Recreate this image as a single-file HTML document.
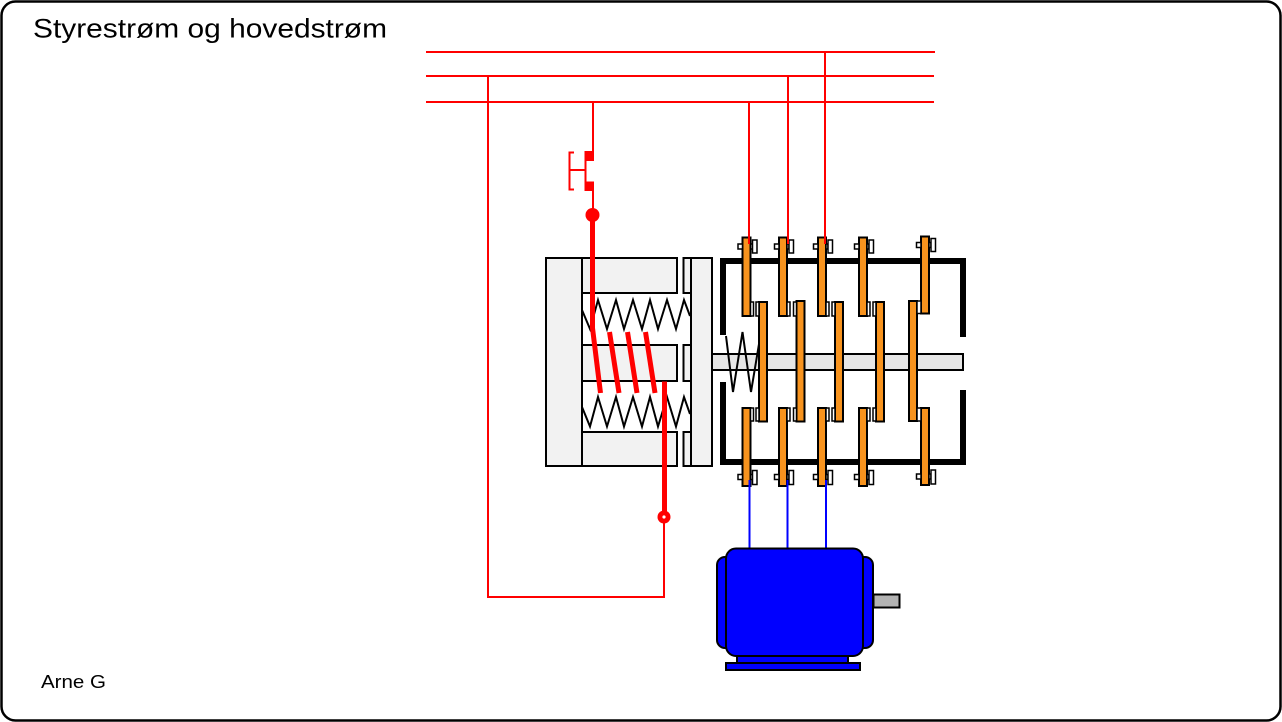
<!DOCTYPE html>
<html><head><meta charset="utf-8"><style>
html,body{margin:0;padding:0;background:#fff;}
svg{display:block;}
text{font-family:"Liberation Sans",sans-serif;}
</style></head><body>
<svg width="1282" height="722" viewBox="0 0 1282 722" xmlns="http://www.w3.org/2000/svg">
<rect x="1.5" y="1.5" width="1279" height="719" rx="14" fill="#fff" stroke="#000" stroke-width="2.5"/>
<text x="33" y="37.5" font-size="27" textLength="354" lengthAdjust="spacingAndGlyphs">Styrestrøm og hovedstrøm</text>
<text x="41" y="688" font-size="18.5" textLength="65" lengthAdjust="spacingAndGlyphs">Arne G</text>

<!-- red bus lines -->
<g stroke="#f00" stroke-width="2" fill="none">
<line x1="426" y1="52" x2="935" y2="52"/>
<line x1="426" y1="76" x2="934" y2="76"/>
<line x1="426" y1="102" x2="934" y2="102"/>
<polyline points="488,76 488,597 664,597 664,517"/>
<line x1="593" y1="102" x2="593" y2="152"/>
<line x1="593" y1="190" x2="593" y2="212"/>
<line x1="585.5" y1="160" x2="585.5" y2="182"/>
<polyline points="574,152.5 569.5,152.5 569.5,189.5 574,189.5"/>
<line x1="569.5" y1="170" x2="585.5" y2="170"/>
</g>
<rect x="584.5" y="151" width="9.5" height="10" fill="#f00"/>
<rect x="584.5" y="181.5" width="9.5" height="9.5" fill="#f00"/>

<!-- magnet frame -->
<g stroke="#000" stroke-width="2" fill="#f2f2f2">
<rect x="546" y="258" width="36" height="208"/>
<rect x="582" y="258" width="95" height="35"/>
<rect x="582" y="345" width="95" height="36"/>
<rect x="582" y="432" width="95" height="34"/>
<rect x="683.5" y="258" width="7.5" height="35"/>
<rect x="683.5" y="345" width="7.5" height="36"/>
<rect x="683.5" y="432" width="7.5" height="34"/>
<!-- shaft -->
<rect x="712" y="354" width="251" height="16" fill="#e6e6e6"/>
<rect x="691" y="258" width="21" height="208"/>
</g>
<!-- springs -->
<g stroke="#000" stroke-width="2" fill="none" stroke-linejoin="miter">
<polyline points="582,310 590,329 598,300 607,329 616,300 624,329 633,300 642,329 650,300 658,329 667,300 676,329 684,300 690,316"/>
<polyline points="582,407 590,426.5 598,397 607,426.5 616,397 624,426.5 633,397 642,426.5 650,397 658,426.5 667,397 676,426.5 684,397 690,414"/>
</g>

<!-- housing -->
<g stroke="#000" stroke-width="6" fill="none" stroke-linecap="butt">
<polyline points="723,335 723,261 963,261 963,337"/>
<polyline points="723,382 723,462 963,462 963,390"/>
</g>
<!-- shaft spring -->
<polyline points="726,336 733,392 742.5,332 751,392 760,338" stroke="#000" stroke-width="2" fill="none"/>

<!-- contacts -->
<g stroke="#000" stroke-width="2" fill="#f7931e">
<!-- top fixed -->
<rect x="742.5" y="237.5" width="8" height="78.5"/>
<rect x="779" y="237.5" width="8" height="78.5"/>
<rect x="818" y="237.5" width="8" height="78.5"/>
<rect x="859" y="237.5" width="8" height="78.5"/>
<rect x="921" y="236.5" width="8" height="77"/>
<!-- bottom fixed -->
<rect x="742.5" y="408" width="8" height="78"/>
<rect x="779" y="408" width="8" height="78"/>
<rect x="818" y="408" width="8" height="78"/>
<rect x="859" y="408" width="8" height="78"/>
<rect x="921" y="408" width="8" height="77"/>
<!-- moving -->
<rect x="759" y="302" width="8" height="119.5"/>
<rect x="796.5" y="301" width="8" height="120.5"/>
<rect x="835" y="302" width="8" height="119.5"/>
<rect x="876" y="302" width="8" height="119.5"/>
<rect x="909" y="301" width="8" height="120"/>
</g>
<!-- white contact tips -->
<g stroke="#000" stroke-width="1.5" fill="#fff">
<rect x="750.5" y="302" width="3" height="14"/><rect x="756" y="302" width="3" height="14"/>
<rect x="787" y="302" width="3" height="14"/><rect x="793.5" y="302" width="3" height="14"/>
<rect x="826" y="302" width="3" height="14"/><rect x="832" y="302" width="3" height="14"/>
<rect x="867" y="302" width="3" height="14"/><rect x="873" y="302" width="3" height="14"/>
<rect x="917" y="301" width="4" height="12.5"/>
<rect x="750.5" y="408" width="3" height="13"/><rect x="756" y="408" width="3" height="13"/>
<rect x="787" y="408" width="3" height="13"/><rect x="793.5" y="408" width="3" height="13"/>
<rect x="826" y="408" width="3" height="13"/><rect x="832" y="408" width="3" height="13"/>
<rect x="867" y="408" width="3" height="13"/><rect x="873" y="408" width="3" height="13"/>
<rect x="917" y="408" width="4" height="13"/>
<!-- top terminals -->
<rect x="738" y="244" width="4.5" height="5"/><rect x="750.5" y="244" width="2" height="5"/><rect x="752.5" y="240" width="4.5" height="13"/>
<rect x="774.5" y="244" width="4.5" height="5"/><rect x="787" y="244" width="2" height="5"/><rect x="789" y="240" width="4.5" height="13"/>
<rect x="813.5" y="244" width="4.5" height="5"/><rect x="826" y="244" width="2" height="5"/><rect x="828" y="240" width="4.5" height="13"/>
<rect x="854.5" y="244" width="4.5" height="5"/><rect x="867" y="244" width="2" height="5"/><rect x="869" y="240" width="4.5" height="13"/>
<rect x="916.5" y="242.5" width="4.5" height="5"/><rect x="929" y="242.5" width="2" height="5"/><rect x="931" y="238.5" width="4.5" height="13"/>
<!-- bottom terminals -->
<rect x="738" y="474.5" width="4.5" height="5"/><rect x="750.5" y="474.5" width="2" height="5"/><rect x="752.5" y="470.5" width="4.5" height="14"/>
<rect x="774.5" y="474.5" width="4.5" height="5"/><rect x="787" y="474.5" width="2" height="5"/><rect x="789" y="470.5" width="4.5" height="14"/>
<rect x="813.5" y="474.5" width="4.5" height="5"/><rect x="826" y="474.5" width="2" height="5"/><rect x="828" y="470.5" width="4.5" height="14"/>
<rect x="854.5" y="474.5" width="4.5" height="5"/><rect x="867" y="474.5" width="2" height="5"/><rect x="869" y="470.5" width="4.5" height="14"/>
<rect x="916.5" y="474" width="4.5" height="5"/><rect x="929" y="474" width="2" height="5"/><rect x="931" y="470" width="4.5" height="14"/>
</g>

<!-- red feeds to contacts -->
<g stroke="#f00" stroke-width="2">
<line x1="825" y1="52" x2="825" y2="244"/>
<line x1="788" y1="76" x2="788" y2="244"/>
<line x1="749" y1="102" x2="749" y2="244"/>
</g>

<!-- coil -->
<g stroke="#f00" stroke-width="5" fill="none" stroke-linecap="butt">
<polyline points="592.5,215 592.5,328 600.5,393"/>
<line x1="609.5" y1="332" x2="619" y2="393"/>
<line x1="627.5" y1="332" x2="637" y2="393"/>
<line x1="645.5" y1="332" x2="655" y2="393"/>
<line x1="664.5" y1="381.5" x2="664.5" y2="517"/>
</g>
<circle cx="592.5" cy="215" r="7" fill="#f00"/>
<circle cx="664" cy="517" r="6.5" fill="#f00"/>
<circle cx="664" cy="517" r="1.6" fill="#fff"/>

<!-- blue wires -->
<g stroke="#00f" stroke-width="2">
<line x1="749.5" y1="480" x2="749.5" y2="550"/>
<line x1="787.5" y1="480" x2="787.5" y2="550"/>
<line x1="826" y1="480" x2="826" y2="550"/>
</g>

<!-- motor -->
<g stroke="#000" stroke-width="2">
<rect x="873.5" y="594.5" width="26" height="13" fill="#b3b3b3"/>
<rect x="717" y="557" width="20" height="91" rx="8" fill="#00f"/>
<rect x="853" y="557" width="20" height="91" rx="8" fill="#00f"/>
<rect x="726" y="548.5" width="137" height="107.5" rx="10" fill="#00f"/>
<rect x="737" y="656" width="111" height="7" fill="#00f"/>
<rect x="726" y="663" width="134" height="7" fill="#00f"/>
</g>
</svg>
</body></html>
